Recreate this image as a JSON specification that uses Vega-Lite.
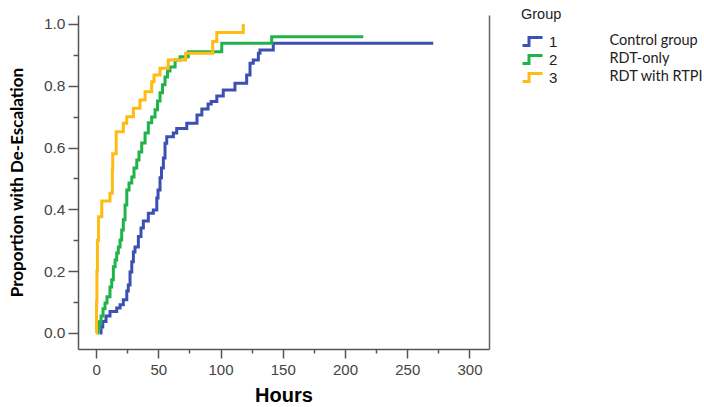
{
  "$schema": "https://vega.github.io/schema/vega-lite/v6.json",
  "width": 411,
  "height": 334,
  "autosize": {"type": "none"},
  "padding": {"left": 78, "top": 15, "right": 215, "bottom": 58},
  "background": "white",
  "config": {"view": {"stroke": null}},
  "data": {
    "values": [
      {"g": "1", "d": "Control group", "h": 3.2, "p": 0},
      {"g": "1", "d": "Control group", "h": 4.0, "p": 0.019},
      {"g": "1", "d": "Control group", "h": 5.4, "p": 0.037},
      {"g": "1", "d": "Control group", "h": 8.0, "p": 0.055},
      {"g": "1", "d": "Control group", "h": 11.2, "p": 0.069},
      {"g": "1", "d": "Control group", "h": 16.6, "p": 0.081},
      {"g": "1", "d": "Control group", "h": 19.3, "p": 0.091},
      {"g": "1", "d": "Control group", "h": 21.9, "p": 0.107},
      {"g": "1", "d": "Control group", "h": 24.7, "p": 0.136},
      {"g": "1", "d": "Control group", "h": 25.9, "p": 0.155},
      {"g": "1", "d": "Control group", "h": 27.3, "p": 0.197},
      {"g": "1", "d": "Control group", "h": 28.7, "p": 0.23},
      {"g": "1", "d": "Control group", "h": 30.0, "p": 0.262},
      {"g": "1", "d": "Control group", "h": 31.3, "p": 0.278},
      {"g": "1", "d": "Control group", "h": 34.0, "p": 0.312},
      {"g": "1", "d": "Control group", "h": 36.1, "p": 0.34},
      {"g": "1", "d": "Control group", "h": 38.0, "p": 0.362},
      {"g": "1", "d": "Control group", "h": 42.0, "p": 0.387},
      {"g": "1", "d": "Control group", "h": 46.0, "p": 0.398},
      {"g": "1", "d": "Control group", "h": 48.8, "p": 0.437},
      {"g": "1", "d": "Control group", "h": 49.8, "p": 0.463},
      {"g": "1", "d": "Control group", "h": 51.4, "p": 0.502},
      {"g": "1", "d": "Control group", "h": 52.6, "p": 0.534},
      {"g": "1", "d": "Control group", "h": 54.1, "p": 0.566},
      {"g": "1", "d": "Control group", "h": 55.4, "p": 0.614},
      {"g": "1", "d": "Control group", "h": 56.8, "p": 0.635},
      {"g": "1", "d": "Control group", "h": 62.1, "p": 0.647},
      {"g": "1", "d": "Control group", "h": 64.8, "p": 0.662},
      {"g": "1", "d": "Control group", "h": 72.9, "p": 0.679},
      {"g": "1", "d": "Control group", "h": 81.1, "p": 0.705},
      {"g": "1", "d": "Control group", "h": 85.0, "p": 0.725},
      {"g": "1", "d": "Control group", "h": 90.0, "p": 0.741},
      {"g": "1", "d": "Control group", "h": 92.5, "p": 0.749},
      {"g": "1", "d": "Control group", "h": 97.0, "p": 0.767},
      {"g": "1", "d": "Control group", "h": 102.2, "p": 0.786},
      {"g": "1", "d": "Control group", "h": 111.6, "p": 0.808},
      {"g": "1", "d": "Control group", "h": 121.0, "p": 0.835},
      {"g": "1", "d": "Control group", "h": 123.7, "p": 0.873},
      {"g": "1", "d": "Control group", "h": 126.3, "p": 0.883},
      {"g": "1", "d": "Control group", "h": 130.4, "p": 0.905},
      {"g": "1", "d": "Control group", "h": 131.7, "p": 0.916},
      {"g": "1", "d": "Control group", "h": 142.4, "p": 0.9375},
      {"g": "1", "d": "Control group", "h": 270.9, "p": 0.9375},
      {"g": "2", "d": "RDT-only", "h": 0.8, "p": 0},
      {"g": "2", "d": "RDT-only", "h": 1.6, "p": 0.016},
      {"g": "2", "d": "RDT-only", "h": 2.8, "p": 0.036},
      {"g": "2", "d": "RDT-only", "h": 4.0, "p": 0.055},
      {"g": "2", "d": "RDT-only", "h": 5.6, "p": 0.078},
      {"g": "2", "d": "RDT-only", "h": 7.2, "p": 0.097},
      {"g": "2", "d": "RDT-only", "h": 8.8, "p": 0.117},
      {"g": "2", "d": "RDT-only", "h": 11.2, "p": 0.149},
      {"g": "2", "d": "RDT-only", "h": 12.6, "p": 0.172},
      {"g": "2", "d": "RDT-only", "h": 13.9, "p": 0.214},
      {"g": "2", "d": "RDT-only", "h": 15.3, "p": 0.236},
      {"g": "2", "d": "RDT-only", "h": 16.6, "p": 0.259},
      {"g": "2", "d": "RDT-only", "h": 17.9, "p": 0.278},
      {"g": "2", "d": "RDT-only", "h": 19.3, "p": 0.301},
      {"g": "2", "d": "RDT-only", "h": 20.6, "p": 0.333},
      {"g": "2", "d": "RDT-only", "h": 21.9, "p": 0.366},
      {"g": "2", "d": "RDT-only", "h": 23.3, "p": 0.414},
      {"g": "2", "d": "RDT-only", "h": 24.7, "p": 0.463},
      {"g": "2", "d": "RDT-only", "h": 26.5, "p": 0.485},
      {"g": "2", "d": "RDT-only", "h": 28.7, "p": 0.505},
      {"g": "2", "d": "RDT-only", "h": 30.5, "p": 0.534},
      {"g": "2", "d": "RDT-only", "h": 32.7, "p": 0.56},
      {"g": "2", "d": "RDT-only", "h": 34.5, "p": 0.586},
      {"g": "2", "d": "RDT-only", "h": 36.7, "p": 0.615},
      {"g": "2", "d": "RDT-only", "h": 39.4, "p": 0.647},
      {"g": "2", "d": "RDT-only", "h": 42.0, "p": 0.68},
      {"g": "2", "d": "RDT-only", "h": 44.7, "p": 0.699},
      {"g": "2", "d": "RDT-only", "h": 47.4, "p": 0.722},
      {"g": "2", "d": "RDT-only", "h": 49.4, "p": 0.751},
      {"g": "2", "d": "RDT-only", "h": 51.4, "p": 0.777},
      {"g": "2", "d": "RDT-only", "h": 53.4, "p": 0.803},
      {"g": "2", "d": "RDT-only", "h": 55.4, "p": 0.828},
      {"g": "2", "d": "RDT-only", "h": 57.4, "p": 0.848},
      {"g": "2", "d": "RDT-only", "h": 59.4, "p": 0.861},
      {"g": "2", "d": "RDT-only", "h": 63.5, "p": 0.883},
      {"g": "2", "d": "RDT-only", "h": 67.5, "p": 0.894},
      {"g": "2", "d": "RDT-only", "h": 74.1, "p": 0.91},
      {"g": "2", "d": "RDT-only", "h": 101.0, "p": 0.9375},
      {"g": "2", "d": "RDT-only", "h": 141.1, "p": 0.959},
      {"g": "2", "d": "RDT-only", "h": 214.7, "p": 0.959},
      {"g": "3", "d": "RDT with RTPI", "h": 0, "p": 0},
      {"g": "3", "d": "RDT with RTPI", "h": 0.4, "p": 0.1},
      {"g": "3", "d": "RDT with RTPI", "h": 0.7, "p": 0.2},
      {"g": "3", "d": "RDT with RTPI", "h": 1.1, "p": 0.3},
      {"g": "3", "d": "RDT with RTPI", "h": 2.0, "p": 0.376},
      {"g": "3", "d": "RDT with RTPI", "h": 4.6, "p": 0.427},
      {"g": "3", "d": "RDT with RTPI", "h": 11.2, "p": 0.452},
      {"g": "3", "d": "RDT with RTPI", "h": 13.1, "p": 0.53},
      {"g": "3", "d": "RDT with RTPI", "h": 13.4, "p": 0.58},
      {"g": "3", "d": "RDT with RTPI", "h": 16.2, "p": 0.651},
      {"g": "3", "d": "RDT with RTPI", "h": 21.9, "p": 0.679},
      {"g": "3", "d": "RDT with RTPI", "h": 24.7, "p": 0.70},
      {"g": "3", "d": "RDT with RTPI", "h": 30.0, "p": 0.727},
      {"g": "3", "d": "RDT with RTPI", "h": 35.3, "p": 0.754},
      {"g": "3", "d": "RDT with RTPI", "h": 39.4, "p": 0.781},
      {"g": "3", "d": "RDT with RTPI", "h": 44.7, "p": 0.813},
      {"g": "3", "d": "RDT with RTPI", "h": 46.6, "p": 0.835},
      {"g": "3", "d": "RDT with RTPI", "h": 51.4, "p": 0.857},
      {"g": "3", "d": "RDT with RTPI", "h": 58.0, "p": 0.883},
      {"g": "3", "d": "RDT with RTPI", "h": 72.0, "p": 0.905},
      {"g": "3", "d": "RDT with RTPI", "h": 93.7, "p": 0.943},
      {"g": "3", "d": "RDT with RTPI", "h": 97.0, "p": 0.972},
      {"g": "3", "d": "RDT with RTPI", "h": 118.3, "p": 1.0}
    ]
  },
  "layer": [
    {
      "mark": {"type": "line", "interpolate": "step-after", "strokeWidth": 3, "opacity": 0},
      "encoding": {
        "x": {"field": "h", "type": "quantitative", "scale": {"domain": [-14.5, 315.7], "nice": false, "zero": false},
          "axis": {
            "title": "Hours", "grid": false,
            "values": [0, 25, 50, 75, 100, 125, 150, 175, 200, 225, 250, 275, 300],
            "labelExpr": "datum.value % 50 === 0 ? datum.label : ''",
            "tickSize": {"condition": {"test": "datum.value % 50 === 0", "value": 9}, "value": 4},
            "tickColor": "#555555", "tickWidth": 1.5, "domainColor": "#555555", "domainWidth": 1.5,
            "labelFont": "Liberation Sans", "labelFontSize": 15, "labelColor": "#444444", "labelPadding": 4, "labelFlush": false,
            "titleFont": "Liberation Sans", "titleFontSize": 20, "titleFontWeight": "bold", "titleColor": "#000000", "titlePadding": 8
          }},
        "y": {"field": "p", "type": "quantitative", "scale": {"domain": [-0.052, 1.029], "nice": false, "zero": false},
          "axis": {"orient": "right", "title": null, "labels": false, "ticks": false, "grid": false, "domainColor": "#666666", "domainWidth": 1.5}},
        "detail": {"field": "g", "type": "nominal"}
      }
    },
    {
      "mark": {"type": "line", "interpolate": "step-after", "strokeWidth": 3},
      "encoding": {
        "x": {"field": "h", "type": "quantitative", "scale": {"domain": [-14.5, 315.7], "nice": false, "zero": false},
          "axis": {
            "title": "Hours", "grid": false,
            "values": [0, 25, 50, 75, 100, 125, 150, 175, 200, 225, 250, 275, 300],
            "labelExpr": "datum.value % 50 === 0 ? datum.label : ''",
            "tickSize": {"condition": {"test": "datum.value % 50 === 0", "value": 9}, "value": 4},
            "tickColor": "#555555", "tickWidth": 1.5, "domainColor": "#555555", "domainWidth": 1.5,
            "labelFont": "Liberation Sans", "labelFontSize": 15, "labelColor": "#444444", "labelPadding": 4, "labelFlush": false,
            "titleFont": "Liberation Sans", "titleFontSize": 20, "titleFontWeight": "bold", "titleColor": "#000000", "titlePadding": 8
          }},
        "y": {"field": "p", "type": "quantitative", "scale": {"domain": [-0.052, 1.029], "nice": false, "zero": false},
          "axis": {
            "title": "Proportion with De-Escalation", "grid": false,
            "values": [0, 0.1, 0.2, 0.3, 0.4, 0.5, 0.6, 0.7, 0.8, 0.9, 1.0],
            "labelExpr": "round(datum.value*10) % 2 === 0 ? format(datum.value, '.1f') : ''",
            "tickSize": {"condition": {"test": "round(datum.value*10) % 2 === 0", "value": 10}, "value": 5},
            "tickColor": "#555555", "tickWidth": 1.5, "domainColor": "#555555", "domainWidth": 1.5,
            "labelFont": "Liberation Sans", "labelFontSize": 15.5, "labelColor": "#444444", "labelPadding": 3, "labelFlush": false,
            "titleFont": "Lato", "titleFontSize": 17, "titleFontWeight": "bold", "titleColor": "#000000", "titlePadding": 17
          }},
        "color": {"field": "g", "type": "nominal",
          "scale": {"domain": ["1", "2", "3"], "range": ["#3B50B2", "#22B24C", "#FDBB13"]},
          "legend": {
            "title": "Group", "orient": "none", "legendX": 443, "legendY": -7, "padding": 0,
            "titleFont": "Liberation Sans", "titleFontSize": 14.5, "titleFontWeight": "normal", "titleColor": "#222222", "titlePadding": 11,
            "labelFont": "Liberation Sans", "labelFontSize": 15, "labelColor": "#222222", "labelOffset": 5,
            "symbolType": "M-1,0.4H-0.35V-0.4H1", "symbolSize": 400, "symbolStrokeWidth": 3,
            "clipHeight": 16, "rowPadding": 2
          }},
        "strokeDash": {"field": "d", "type": "nominal",
          "scale": {"domain": ["Control group", "RDT-only", "RDT with RTPI"], "range": [[1, 0], [1, 0], [1, 0]]},
          "legend": {
            "title": null, "orient": "none", "legendX": 517, "legendY": 18, "padding": 0,
            "symbolOpacity": 0, "symbolSize": 1, "labelOffset": 0,
            "labelFont": "Lato", "labelFontSize": 14.5, "labelColor": "#222222",
            "clipHeight": 16, "rowPadding": 2
          }}
      }
    }
  ],
  "resolve": {"axis": {"y": "independent"}}
}
